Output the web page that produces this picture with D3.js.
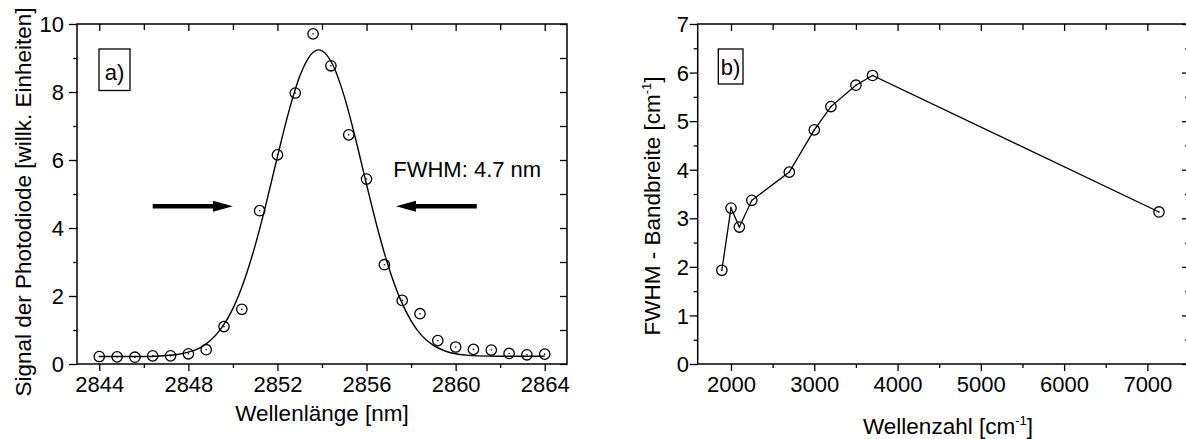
<!DOCTYPE html>
<html><head><meta charset="utf-8">
<script src="https://cdn.jsdelivr.net/npm/d3@7"></script>
<style>
html,body{margin:0;padding:0;background:#fff;}
svg{display:block;font-family:"Liberation Sans",Arial,sans-serif;}
</style></head>
<body><svg id="chart" width="1186" height="439"></svg>
<script>
// ---- Panel a data ----
const wavelengthA = [2844,2844.8,2845.6,2846.4,2847.2,2848,2848.8,2849.6,2850.4,2851.2,2852,2852.8,2853.6,2854.4,2855.2,2856,2856.8,2857.6,2858.4,2859.2,2860,2860.8,2861.6,2862.4,2863.2,2864];
const signalA = [0.22,0.21,0.20,0.24,0.24,0.30,0.42,1.10,1.61,4.51,6.15,7.97,9.71,8.77,6.74,5.44,2.92,1.87,1.48,0.69,0.50,0.43,0.41,0.31,0.27,0.29];
const fitX = [2844,2844.5,2845,2845.5,2846,2846.5,2847,2847.5,2848,2848.5,2849,2849.5,2850,2850.5,2851,2851.5,2852,2852.5,2853,2853.5,2853.85,2854.2,2854.5,2855,2855.5,2856,2856.5,2857,2857.5,2858,2858.5,2859,2859.5,2860,2860.5,2861,2862,2863,2864];
const fitY = [0.22,0.22,0.22,0.22,0.22,0.23,0.25,0.28,0.35,0.47,0.70,1.07,1.63,2.44,3.49,4.74,6.10,7.40,8.46,9.10,9.24,9.10,8.78,7.87,6.64,5.28,3.97,2.83,1.93,1.27,0.82,0.55,0.39,0.30,0.26,0.24,0.23,0.23,0.23];
const xTicksA = [2844,2848,2852,2856,2860,2864];
const xMinorA = [2846,2850,2854,2858,2862];
const yTicksA = [0,2,4,6,8,10];
const yMinorA = [1,3,5,7,9];

// ---- Panel b data ----
const wavenumberB = [1890,2000,2100,2250,2700,3000,3200,3500,3700,7140];
const fwhmB = [1.93,3.21,2.82,3.37,3.95,4.82,5.30,5.74,5.94,3.13];
const xTicksB = [2000,3000,4000,5000,6000,7000];
const xMinorB = [2500,3500,4500,5500,6500,7500];
const yTicksB = [0,1,2,3,4,5,6,7];
const yMinorB = [0.5,1.5,2.5,3.5,4.5,5.5,6.5];

const svg = d3.select("#chart");
svg.append("rect").attr("width",1186).attr("height",439).attr("fill","#fff");
const FS = 22;
const TFS = 22.5;

function panel(cfg){
  const {x,y,xT,xM,yT,yM,labelRight} = cfg;
  const [x0,x1] = x.range(), [y0,y1] = y.range();
  const g = svg.append("g");
  g.append("g").attr("transform",`translate(0,${y0})`)
    .call(d3.axisBottom(x).tickValues(xT).tickSize(7).tickFormat(d3.format("d")))
    .call(s=>{s.select(".domain").remove();
      s.selectAll("text").attr("y",28).attr("dy",0).style("font-size",FS+"px").style("font-family","Liberation Sans, Arial, sans-serif").attr("fill","#000");});
  g.append("g").attr("transform",`translate(0,${y0})`)
    .call(d3.axisBottom(x).tickValues(xM).tickSize(4).tickFormat(""))
    .call(s=>s.select(".domain").remove());
  g.append("g").attr("transform",`translate(0,${y1})`)
    .call(d3.axisBottom(x).tickValues(xT).tickSize(7).tickFormat(""))
    .call(s=>s.select(".domain").remove());
  g.append("g").attr("transform",`translate(0,${y1})`)
    .call(d3.axisBottom(x).tickValues(xM).tickSize(6).tickFormat(""))
    .call(s=>s.select(".domain").remove());
  g.append("g").attr("transform",`translate(${x0},0)`)
    .call(d3.axisLeft(y).tickValues(yT).tickSize(8).tickFormat(d3.format("d")))
    .call(s=>{s.select(".domain").remove();
      s.selectAll("text").attr("x",-(x0-labelRight)).attr("dy","0.35em").style("font-size",FS+"px").style("font-family","Liberation Sans, Arial, sans-serif").attr("fill","#000");});
  g.append("g").attr("transform",`translate(${x0},0)`)
    .call(d3.axisLeft(y).tickValues(yM).tickSize(4).tickFormat(""))
    .call(s=>s.select(".domain").remove());
  g.append("g").attr("transform",`translate(${x1},0)`)
    .call(d3.axisLeft(y).tickValues(yT).tickSize(7).tickFormat(""))
    .call(s=>s.select(".domain").remove());
  g.append("g").attr("transform",`translate(${x1},0)`)
    .call(d3.axisLeft(y).tickValues(yM).tickSize(cfg.rightMinor).tickFormat(""))
    .call(s=>s.select(".domain").remove());
  g.selectAll(".tick line").attr("stroke","#000").attr("stroke-width",1.3);
  g.append("rect").attr("x",x0).attr("y",y1).attr("width",x1-x0).attr("height",y0-y1)
    .attr("fill","none").attr("stroke","#000").attr("stroke-width",1.5);
  return g;
}

function markers(g,xs,ys,x,y){
  const pts = xs.map((d,i)=>[d,ys[i]]);
  g.append("g").selectAll("circle").data(pts).join("circle")
    .attr("cx",d=>x(d[0])).attr("cy",d=>y(d[1])).attr("r",5.2)
    .attr("fill","none").attr("stroke","#000").attr("stroke-width",1.3);
  g.append("g").selectAll("circle").data(pts).join("circle")
    .attr("cx",d=>x(d[0])).attr("cy",d=>y(d[1])).attr("r",0.8).attr("fill","#000");
}

// ---------- Panel a ----------
const xA = d3.scaleLinear().domain([2843,2865]).range([77,567]);
const yA = d3.scaleLinear().domain([0,10]).range([364,24]);
const gA = panel({x:xA,y:yA,xT:xTicksA,xM:xMinorA,yT:yTicksA,yM:yMinorA,labelRight:64,rightMinor:7});
gA.append("path").datum(fitX.map((d,i)=>[d,fitY[i]]))
  .attr("d",d3.line().x(d=>xA(d[0])).y(d=>yA(d[1])).curve(d3.curveMonotoneX))
  .attr("fill","none").attr("stroke","#000").attr("stroke-width",1.4);
markers(gA,wavelengthA,signalA,xA,yA);

function arrow(xs,xe,yv){
  const sx=xA(xs), ex=xA(xe), yy=yA(yv);
  const dir = ex>sx?1:-1, head=20;
  gA.append("line").attr("x1",sx).attr("y1",yy).attr("x2",ex-dir*head+dir*2).attr("y2",yy)
    .attr("stroke","#000").attr("stroke-width",4.5);
  gA.append("path").attr("d",`M${ex},${yy} L${ex-dir*head},${yy-5.5} L${ex-dir*head},${yy+5.5} Z`).attr("fill","#000");
}
arrow(2846.4,2850.0,4.64);
arrow(2860.95,2857.32,4.64);
gA.append("text").attr("x",xA(2857.2)).attr("y",yA(5.51)).attr("font-size",FS).text("FWHM: 4.7 nm");

gA.append("rect").attr("x",99).attr("y",49).attr("width",31).attr("height",41.5)
  .attr("fill","none").attr("stroke","#000").attr("stroke-width",1.3);
gA.append("text").attr("x",114.5).attr("y",80).attr("text-anchor","middle").attr("font-size",FS).text("a)");

svg.append("text").attr("x",322).attr("y",421).attr("text-anchor","middle").attr("font-size",TFS).text("Wellenlänge [nm]");
svg.append("text").attr("transform","translate(31,202) rotate(-90)").attr("text-anchor","middle")
  .attr("font-size",TFS).text("Signal der Photodiode [willk. Einheiten]");

// ---------- Panel b ----------
const xB = d3.scaleLinear().domain([1600,7500]).range([697.7,1189]);
const yB = d3.scaleLinear().domain([0,7]).range([364,24]);
const gB = panel({x:xB,y:yB,xT:xTicksB,xM:xMinorB,yT:yTicksB,yM:yMinorB,labelRight:689,rightMinor:4});
gB.append("path").datum(wavenumberB.map((d,i)=>[d,fwhmB[i]]))
  .attr("d",d3.line().x(d=>xB(d[0])).y(d=>yB(d[1])))
  .attr("fill","none").attr("stroke","#000").attr("stroke-width",1.3);
markers(gB,wavenumberB,fwhmB,xB,yB);

gB.append("rect").attr("x",718.3).attr("y",49).attr("width",24.7).attr("height",35)
  .attr("fill","none").attr("stroke","#000").attr("stroke-width",1.3);
gB.append("text").attr("x",730.6).attr("y",75).attr("text-anchor","middle").attr("font-size",FS).text("b)");

function supTitle(sel,pre,sup,post){
  sel.append("tspan").text(pre);
  sel.append("tspan").attr("font-size",13).attr("dy",-9).text(sup);
  sel.append("tspan").attr("dy",9).text(post);
}
supTitle(svg.append("text").attr("x",948).attr("y",434).attr("text-anchor","middle").attr("font-size",TFS),
  "Wellenzahl [cm","-1","]");
supTitle(svg.append("text").attr("transform","translate(660,206) rotate(-90)").attr("text-anchor","middle").attr("font-size",TFS),
  "FWHM - Bandbreite [cm","-1","]");
</script></body></html>
